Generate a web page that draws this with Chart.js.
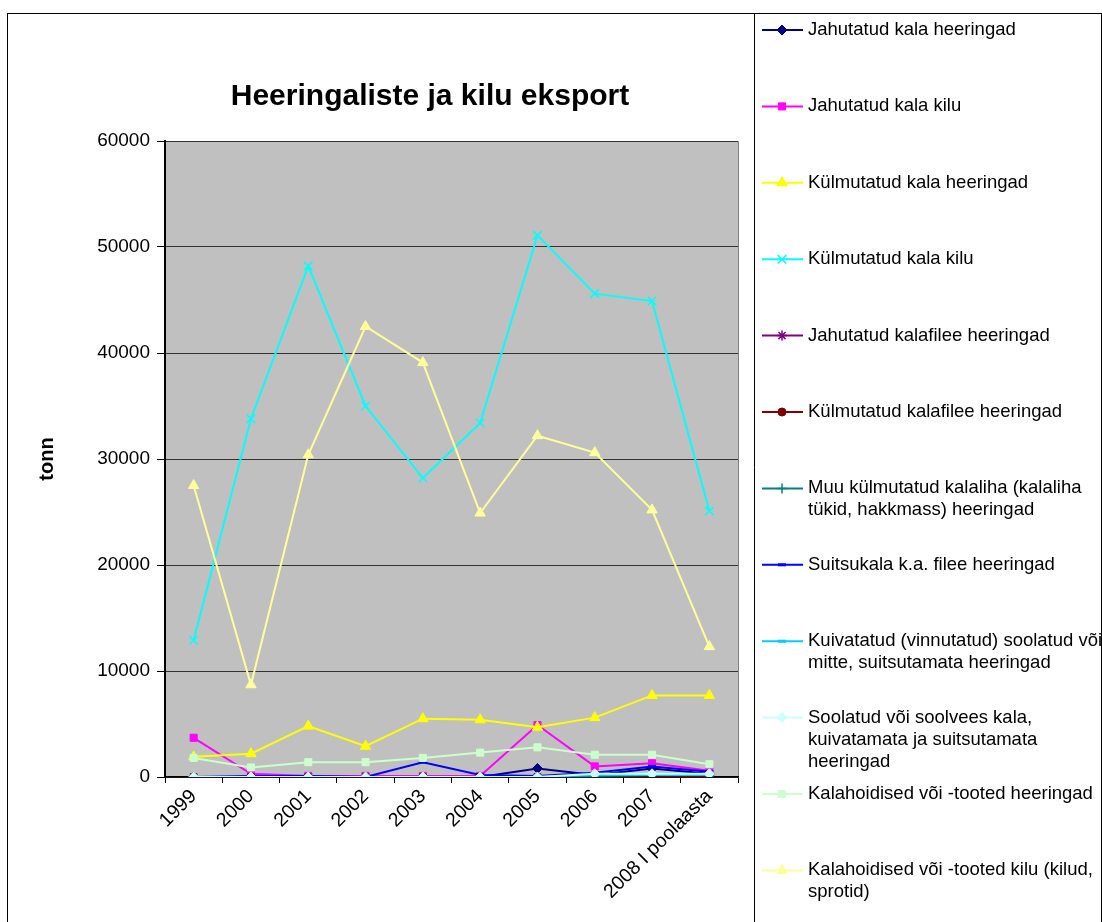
<!DOCTYPE html>
<html><head><meta charset="utf-8">
<script src="https://cdn.jsdelivr.net/npm/chart.js@4.4.1/dist/chart.umd.min.js"></script>
<style>html,body{margin:0;padding:0;background:#fff;overflow:hidden}</style>
</head><body>
<canvas id="c" width="1102" height="922"></canvas>
<script>
// ---- data ----
const chartTitle = 'Heeringaliste ja kilu eksport';
const yAxisTitle = 'tonn';
const categories = ['1999','2000','2001','2002','2003','2004','2005','2006','2007','2008 I poolaasta'];
const yTicks = [0, 10000, 20000, 30000, 40000, 50000, 60000];

const jahutatudKalaHeeringad   = [0, 0, 0, 0, 0, 0, 800, 200, 800, 300];
const jahutatudKalaKilu        = [3700, 300, 100, 100, 100, 100, 4900, 1000, 1300, 600];
const kulmutatudKalaHeeringad  = [1900, 2200, 4800, 2900, 5500, 5400, 4700, 5600, 7700, 7700];
const kulmutatudKalaKilu       = [12900, 33800, 48200, 35000, 28200, 33400, 51100, 45600, 44900, 25100];
const jahutatudKalafilee       = [0, 0, 0, 0, 0, 0, 0, 0, 0, 0];
const kulmutatudKalafilee      = [0, 0, 0, 0, 0, 0, 0, 0, 0, 0];
const muuKalaliha              = [0, 0, 0, 0, 0, 0, 0, 100, 200, 200];
const suitsukala               = [0, 100, 100, 0, 1400, 200, 100, 400, 1000, 500];
const kuivatatud               = [0, 0, 0, 0, 0, 0, 0, 200, 200, 200];
const soolatud                 = [0, 0, 0, 0, 0, 0, 0, 300, 300, 300];
const kalahoidisedHeeringad    = [1800, 900, 1400, 1400, 1800, 2300, 2800, 2100, 2100, 1200];
const kalahoidisedKilu         = [27500, 8700, 30400, 42500, 39100, 24900, 32200, 30600, 25200, 12300];

const seriesLabels = [
  ['Jahutatud kala heeringad'],
  ['Jahutatud kala kilu'],
  ['Külmutatud kala heeringad'],
  ['Külmutatud kala kilu'],
  ['Jahutatud kalafilee heeringad'],
  ['Külmutatud kalafilee heeringad'],
  ['Muu külmutatud kalaliha (kalaliha', 'tükid, hakkmass) heeringad'],
  ['Suitsukala k.a. filee heeringad'],
  ['Kuivatatud (vinnutatud) soolatud või', 'mitte, suitsutamata heeringad'],
  ['Soolatud või soolvees kala,', 'kuivatamata ja suitsutamata', 'heeringad'],
  ['Kalahoidised või -tooted heeringad'],
  ['Kalahoidised või -tooted kilu (kilud,', 'sprotid)']
];
const seriesValues = [jahutatudKalaHeeringad, jahutatudKalaKilu, kulmutatudKalaHeeringad, kulmutatudKalaKilu,
  jahutatudKalafilee, kulmutatudKalafilee, muuKalaliha, suitsukala, kuivatatud, soolatud,
  kalahoidisedHeeringad, kalahoidisedKilu];

// ---- styles ----
const seriesColors = ['#000080','#FF00FF','#FFFF00','#00FFFF','#800080','#800000','#008080','#0000FF','#00CCFF','#CCFFFF','#CCFFCC','#FFFF99'];
const seriesPoint  = ['rectRot','rect','triangle','crossRot','star','circle','cross','line','line','rectRot','rect','triangle'];
const seriesRadius = [5, 5, 6, 6, 5, 4, 5, 4, 4, 5, 5, 6];
const hollowStyles = ['crossRot','star','cross','line'];

const FONT = '"Liberation Sans", Arial, sans-serif';
Chart.defaults.font.family = FONT;
Chart.defaults.color = '#000';

const n = seriesValues.length;
const datasets = seriesValues.map((vals, i) => ({
  label: seriesLabels[i].join(' '),
  data: vals,
  borderColor: seriesColors[i],
  backgroundColor: seriesColors[i],
  pointBackgroundColor: seriesColors[i],
  pointBorderColor: seriesColors[i],
  pointStyle: seriesPoint[i],
  pointRadius: seriesRadius[i],
  pointBorderWidth: hollowStyles.includes(seriesPoint[i]) ? (seriesPoint[i] === 'line' ? 3 : 1.5) : 1,
  borderWidth: 2,
  tension: 0,
  fill: false,
  order: n - i
}));

const PLOT = {left: 165, right: 738, top: 141, bottom: 777};

const decor = {
  id: 'decor',
  beforeDraw(chart) {
    const {ctx, chartArea: a} = chart;
    ctx.save();
    ctx.fillStyle = '#fff';
    ctx.fillRect(0, 0, chart.width, chart.height);
    ctx.fillStyle = '#C0C0C0';
    ctx.fillRect(a.left, a.top, a.right - a.left, a.bottom - a.top);
    ctx.strokeStyle = '#808080';
    ctx.lineWidth = 1;
    ctx.beginPath();
    ctx.moveTo(a.left, a.top + 0.5); ctx.lineTo(a.right + 0.5, a.top + 0.5); ctx.lineTo(a.right + 0.5, a.bottom);
    ctx.stroke();
    ctx.restore();
  },
  afterDraw(chart) {
    const ctx = chart.ctx;
    ctx.save();
    ctx.strokeStyle = '#000';
    ctx.lineWidth = 1;
    ctx.strokeRect(7.5, 13.5, 1094, 940);
    ctx.beginPath(); ctx.moveTo(754.5, 13.5); ctx.lineTo(754.5, 922); ctx.stroke();
    ctx.fillStyle = '#000';
    ctx.font = 'bold 30px ' + FONT;
    ctx.textAlign = 'center';
    ctx.textBaseline = 'middle';
    ctx.fillText(chartTitle, 430, 97);
    ctx.font = '18.5px ' + FONT;
    ctx.textAlign = 'left';
    const top = 30, step = 76.4;
    chart.data.datasets.forEach((ds, i) => {
      const y = top + i * step;
      ctx.strokeStyle = ds.borderColor;
      ctx.lineWidth = 2;
      ctx.beginPath(); ctx.moveTo(762, y); ctx.lineTo(803, y); ctx.stroke();
      ctx.fillStyle = ds.pointBackgroundColor;
      ctx.strokeStyle = ds.pointBorderColor;
      ctx.lineWidth = ds.pointBorderWidth;
      Chart.helpers.drawPoint(ctx, {pointStyle: ds.pointStyle, radius: ds.pointRadius, borderWidth: ds.pointBorderWidth, rotation: 0}, 782, y);
      ctx.fillStyle = '#000';
      seriesLabels[i].forEach((line, k) => ctx.fillText(line, 808, y + k * 22));
    });
    ctx.restore();
  }
};

new Chart(document.getElementById('c'), {
  type: 'line',
  data: {labels: categories, datasets},
  plugins: [decor],
  options: {
    responsive: false,
    animation: false,
    layout: {padding: {left: 20, right: 1102 - PLOT.right, top: PLOT.top, bottom: 0}},
    plugins: {legend: {display: false}, tooltip: {enabled: false}, title: {display: false}},
    scales: {
      x: {
        offset: true,
        grid: {offset: true, drawOnChartArea: false, drawTicks: true, tickLength: 6, color: '#000', lineWidth: 1},
        border: {display: true, color: '#000', width: 1.5},
        ticks: {autoSkip: false, maxRotation: 45, minRotation: 45, padding: 2, font: {size: 19.5}, color: '#000'},
        afterFit(s) { s.height = 922 - PLOT.bottom; }
      },
      y: {
        min: 0, max: 60000,
        afterBuildTicks(s) { s.ticks = yTicks.map(v => ({value: v})); },
        grid: {color: '#333', lineWidth: 1, drawTicks: true, tickLength: 8, tickColor: '#000'},
        border: {display: true, color: '#000', width: 2},
        ticks: {padding: 7, font: {size: 19}, color: '#000', callback: v => String(v)},
        title: {display: true, text: yAxisTitle, font: {size: 20, weight: 'bold'}, padding: {top: 15, bottom: 0}, color: '#000'},
        afterFit(s) { s.width = PLOT.left - 20; }
      }
    }
  }
});
</script>
</body></html>
